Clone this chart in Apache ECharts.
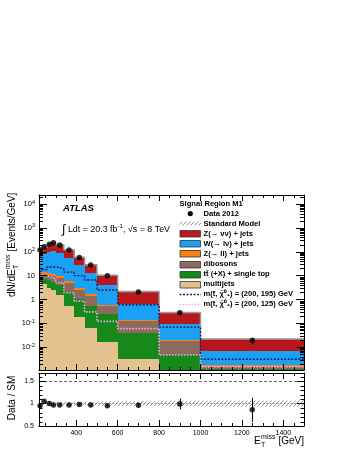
<!DOCTYPE html>
<html>
<head>
<meta charset="utf-8">
<title>Signal Region M1</title>
<script src="https://cdn.jsdelivr.net/npm/echarts@6.0.0/dist/echarts.min.js"></script>
<style>
  html, body { margin: 0; padding: 0; background: #ffffff; }
  #chart { width: 349px; height: 451px; }
</style>
</head>
<body>
<div id="chart"></div>
<script>
// E_T^miss bin edges [GeV]
var binEdges = [220, 230, 260, 280, 300, 340, 390, 440, 500, 600, 800, 1000, 1500];

// everything in events / GeV
var dataVals  = [118, 162, 204, 238, 191, 118, 58, 27.8, 9.9, 2.06, 0.28, 0.019];
var dataErrs  = [3.4, 2.3, 3.2, 3.4, 2.2, 1.5, 1.1, 0.68, 0.31, 0.1, 0.037, 0.006];

// stack, bottom to top
var multijets = [5.5, 4.5, 3.0, 2.5, 1.5, 0.55, 0.18, 0.062, 0.017, 0.0031, 0.0005, 0.0002];
var ttbar     = [2.2, 3.0, 3.3, 3.0, 2.5, 1.45, 0.82, 0.49, 0.22, 0.037, 0.0042, 0.001];
var dibosons  = [4.9, 4.2, 4.4, 4.5, 4.3, 3.1, 1.6, 0.89, 0.28, 0.08, 0.0127, 0.0003];
var zll       = [1.9, 1.8, 1.6, 1.5, 1.2, 0.8, 0.4, 0.21, 0.08, 0.018, 0.0026, 0.0002];
var wlnu      = [48, 64, 83, 93, 78, 48, 24, 10.9, 3.5, 0.52, 0.074, 0.0053];
var znunu     = [62, 76, 109, 140, 109, 68, 32, 16.2, 6.3, 1.5, 0.19, 0.015];
var smRelErr  = [0.05, 0.045, 0.04, 0.04, 0.04, 0.04, 0.045, 0.045, 0.05, 0.05, 0.06, 0.07];

// signal points
var sig195 = [12, 18, 23, 23, 20, 14, 10, 6.5, 2.5, 0.6, 0.069, 0.0031];
var sig125 = [11, 10, 8.5, 7.5, 5, 1.9, 0.85, 0.3, 0.12, 0.06, 0.0047, 0.0015];

// data / SM
var ratioVals = [0.95, 1.05, 1.0, 0.97, 0.97, 0.97, 0.98, 0.97, 0.95, 0.96, 0.99, 0.86];
var ratioErrs = [0.03, 0.02, 0.02, 0.02, 0.02, 0.02, 0.02, 0.03, 0.03, 0.05, 0.12, 0.27];

// axis ticks
var yTickVals = [0.01, 0.1, 1, 10, 100, 1000, 10000];
var yTickText = ['10{s|-2}', '10{s|-1}', '1', '10', '10{s|2}', '10{s|3}', '10{s|4}'];
var xMinorTicks = [250, 300, 350, 450, 500, 550, 650, 700, 750, 850, 900, 950, 1050, 1100, 1150, 1250, 1300, 1350, 1450];
var rMinorTicks = [0.6, 0.7, 0.8, 0.9, 1.1, 1.2, 1.3, 1.4, 1.6];

var legendHeader = 'Signal Region M1';
var legendLabels = ['Data 2012', 'Standard Model', 'Z(\u2192 \u03bd\u03bd) + jets', 'W(\u2192 l\u03bd) + jets',
  'Z(\u2192 ll) + jets', 'dibosons', 'tt\u0304 (+X) + single top', 'multijets',
  'm(t\u0303, \u03c7\u0303\u2070\u2081) = (200, 195) GeV', 'm(t\u0303, \u03c7\u0303\u2070\u2081) = (200, 125) GeV'];

var FONT = '"Liberation Sans", Arial, Helvetica, sans-serif';
var X_MIN = 220, X_MAX = 1500, Y_MIN = 0.0011, Y_MAX = 24000, R_MIN = 0.5, R_MAX = 1.68;

var colMulti = '#e3c290', colTop = '#17891a', colDib = '#8c6b5c', colZll = '#ff800f',
    colW = '#1ba1f4', colZnn = '#b8171c', colSig1 = '#24165e', colSig2 = '#f4a8f4';

var layers = [
  { vals: multijets, color: colMulti },
  { vals: ttbar, color: colTop },
  { vals: dibosons, color: colDib },
  { vals: zll, color: colZll },
  { vals: wlnu, color: colW },
  { vals: znunu, color: colZnn }
];

var nb = binEdges.length - 1;
var cum = [];
for (var i = 0; i < nb; i++) cum.push(0);
layers.forEach(function (l) {
  l.items = l.vals.map(function (v, i) {
    var lo = cum[i];
    cum[i] += v;
    return [binEdges[i], binEdges[i + 1], lo > 0 ? lo : Y_MIN / 10, cum[i]];
  });
});
var smTotal = cum.slice();
var centers = [];
for (i = 0; i < nb; i++) centers.push((binEdges[i] + binEdges[i + 1]) / 2);

function stepData(vals) {
  var d = vals.map(function (v, i) { return [binEdges[i], v]; });
  d.push([binEdges[vals.length], vals[vals.length - 1]]);
  return d;
}

// hatch pattern
function hatchCanvas(color) {
  var c = document.createElement('canvas');
  c.width = 4; c.height = 4;
  var g = c.getContext('2d');
  g.strokeStyle = color;
  g.lineWidth = 0.9;
  g.beginPath();
  g.moveTo(0, 4); g.lineTo(4, 0);
  g.moveTo(-1, 1); g.lineTo(1, -1);
  g.moveTo(3, 5); g.lineTo(5, 3);
  g.stroke();
  return c;
}
var hatchFill = { image: hatchCanvas('#8a8a8a'), repeat: 'repeat' };

var mctx = document.createElement('canvas').getContext('2d');
function textW(str, size, weight) {
  mctx.font = (weight || 'normal') + ' ' + size + 'px ' + FONT;
  return mctx.measureText(str).width;
}

function clipTo(r, cs) {
  return echarts.graphic.clipRectByRect(r, { x: cs.x, y: cs.y, width: cs.width, height: cs.height });
}

function renderBox(params, api) {
  var a = api.coord([api.value(0), api.value(3)]);
  var b = api.coord([api.value(1), api.value(2)]);
  var x0 = Math.round(a[0]), x1 = Math.round(b[0]);
  var y0 = Math.round(a[1]), y1 = Math.round(b[1]);
  var r = clipTo({ x: x0, y: y0, width: x1 - x0, height: y1 - y0 }, params.coordSys);
  if (!r) return;
  return { type: 'rect', shape: r, style: { fill: api.visual('color') } };
}

function renderHatch(params, api) {
  var a = api.coord([api.value(0), api.value(3)]);
  var b = api.coord([api.value(1), api.value(2)]);
  var r = clipTo({ x: a[0], y: a[1], width: b[0] - a[0], height: Math.max(b[1] - a[1], 1.5) }, params.coordSys);
  if (!r) return;
  return { type: 'rect', shape: r, style: { fill: hatchFill } };
}

function renderErr(params, api) {
  var a = api.coord([api.value(0), api.value(1) - api.value(2)]);
  var b = api.coord([api.value(0), api.value(1) + api.value(2)]);
  var x = Math.round(a[0]) + 0.5;
  return { type: 'line', shape: { x1: x, y1: a[1], x2: x, y2: b[1] }, style: { stroke: '#000', lineWidth: 1 } };
}

function tickSeries(xi, yi, data, dim, len) {
  return {
    type: 'custom', xAxisIndex: xi, yAxisIndex: yi, silent: true, z: 12, clip: false,
    data: data,
    renderItem: function (params, api) {
      var cs = params.coordSys;
      var p = api.coord([api.value(0), api.value(1)]);
      var st = { stroke: '#000', lineWidth: 1 };
      if (dim === 'y') {
        if (p[1] < cs.y + 0.5 || p[1] > cs.y + cs.height - 0.5) return;
        var y = Math.round(p[1]) + 0.5;
        return { type: 'group', children: [
          { type: 'line', shape: { x1: cs.x, y1: y, x2: cs.x + len, y2: y }, style: st },
          { type: 'line', shape: { x1: cs.x + cs.width - len, y1: y, x2: cs.x + cs.width, y2: y }, style: st }
        ] };
      }
      var x = Math.round(p[0]) + 0.5;
      return { type: 'group', children: [
        { type: 'line', shape: { x1: x, y1: cs.y + cs.height, x2: x, y2: cs.y + cs.height - len }, style: st },
        { type: 'line', shape: { x1: x, y1: cs.y, x2: x, y2: cs.y + len }, style: st }
      ] };
    }
  };
}

var yMinorTicks = [];
for (var e = -3; e <= 4; e++) {
  for (var k = 2; k <= 9; k++) {
    var v = k * Math.pow(10, e);
    if (v > Y_MIN && v < Y_MAX) yMinorTicks.push([X_MIN, v]);
  }
}

function logLabel(val) {
  for (var j = 0; j < yTickVals.length; j++) {
    if (Math.abs(val / yTickVals[j] - 1) < 1e-6) return yTickText[j];
  }
  return '';
}

var axisLineStyle = { show: true, lineStyle: { color: '#000', width: 1 } };
function xAx(grid, pos, labels) {
  return {
    type: 'value', gridIndex: grid, position: pos, min: X_MIN, max: X_MAX, splitNumber: 6, z: 10,
    axisLine: axisLineStyle,
    axisTick: { show: true, inside: true, length: 6, lineStyle: { color: '#000' } },
    splitLine: { show: false },
    axisLabel: labels ? { show: true, fontSize: 7, color: '#000', margin: 4, fontFamily: FONT,
      showMinLabel: false, showMaxLabel: false,
      formatter: function (v) { return (v === X_MIN || v === X_MAX) ? '' : String(v); } } : { show: false }
  };
}

var ySeries = [];
layers.forEach(function (l) {
  ySeries.push({ type: 'custom', xAxisIndex: 0, yAxisIndex: 0, renderItem: renderBox,
    itemStyle: { color: l.color }, data: l.items, z: 2, silent: true });
});

var smBand = smTotal.map(function (t, i) {
  return [binEdges[i], binEdges[i + 1], t * (1 - smRelErr[i]), t * (1 + smRelErr[i])];
});
var rBand = smRelErr.map(function (r, i) { return [binEdges[i], binEdges[i + 1], 1 - r, 1 + r]; });

var option = {
  animation: false,
  backgroundColor: '#ffffff',
  textStyle: { fontFamily: FONT },
  grid: [
    { left: 39, top: 195, width: 265, height: 175 },
    { left: 39, top: 373, width: 265, height: 53 }
  ],
  xAxis: [xAx(0, 'bottom', false), xAx(0, 'top', false), xAx(1, 'bottom', true), xAx(1, 'top', false)],
  yAxis: [
    { type: 'log', gridIndex: 0, position: 'left', min: Y_MIN, max: Y_MAX, logBase: 10, z: 10,
      axisLine: axisLineStyle, splitLine: { show: false },
      axisTick: { show: true, inside: true, length: 8, lineStyle: { color: '#000' } },
      axisLabel: { show: true, color: '#000', margin: 4, formatter: logLabel,
        rich: { s: { fontSize: 5.5, verticalAlign: 'top', fontFamily: FONT, padding: [0, 0, 4, 0] } },
        fontSize: 7.5, fontFamily: FONT } },
    { type: 'log', gridIndex: 0, position: 'right', min: Y_MIN, max: Y_MAX, logBase: 10, z: 10,
      axisLine: axisLineStyle, splitLine: { show: false },
      axisTick: { show: true, inside: true, length: 8, lineStyle: { color: '#000' } },
      axisLabel: { show: false } },
    { type: 'value', gridIndex: 1, position: 'left', min: R_MIN, max: R_MAX, interval: 0.5, z: 10,
      axisLine: axisLineStyle, splitLine: { show: false },
      axisTick: { show: true, inside: true, length: 7, lineStyle: { color: '#000' } },
      axisLabel: { show: true, color: '#000', fontSize: 7, margin: 5, fontFamily: FONT,
        formatter: function (v) { return v > 1.6 ? '' : String(v); } } },
    { type: 'value', gridIndex: 1, position: 'right', min: R_MIN, max: R_MAX, interval: 0.5, z: 10,
      axisLine: axisLineStyle, splitLine: { show: false },
      axisTick: { show: true, inside: true, length: 7, lineStyle: { color: '#000' } },
      axisLabel: { show: false } }
  ],
  series: ySeries.concat([
    { type: 'custom', xAxisIndex: 0, yAxisIndex: 0, renderItem: renderHatch, data: smBand, z: 3, silent: true },
    { type: 'line', xAxisIndex: 0, yAxisIndex: 0, step: 'end', data: stepData(smTotal), symbol: 'none',
      lineStyle: { color: '#9a9a9a', width: 1.5 }, z: 3, silent: true },
    { type: 'line', xAxisIndex: 0, yAxisIndex: 0, step: 'end', data: stepData(sig195), symbol: 'none',
      lineStyle: { color: colSig1, width: 1.4, type: [2, 1.5] }, z: 4, silent: true },
    { type: 'line', xAxisIndex: 0, yAxisIndex: 0, step: 'end', data: stepData(sig125), symbol: 'none',
      lineStyle: { color: colSig2, width: 1.6, type: [1.5, 1.5] }, z: 4, silent: true },
    { type: 'custom', xAxisIndex: 0, yAxisIndex: 0, renderItem: renderErr, z: 5, silent: true,
      data: centers.map(function (c, i) { return [c, dataVals[i], dataErrs[i]]; }) },
    { type: 'scatter', xAxisIndex: 0, yAxisIndex: 0, symbolSize: 5.5, itemStyle: { color: '#000' }, z: 6,
      data: centers.map(function (c, i) { return [c, dataVals[i]]; }), silent: true },
    tickSeries(0, 0, yMinorTicks, 'y', 4),
    tickSeries(0, 0, xMinorTicks.map(function (x) { return [x, 1]; }), 'x', 3),

    { type: 'custom', xAxisIndex: 2, yAxisIndex: 2, renderItem: renderHatch, data: rBand, z: 3, silent: true },
    { type: 'custom', xAxisIndex: 2, yAxisIndex: 2, renderItem: renderErr, z: 5, silent: true,
      data: centers.map(function (c, i) { return [c, ratioVals[i], ratioErrs[i]]; }) },
    { type: 'scatter', xAxisIndex: 2, yAxisIndex: 2, symbolSize: 5.5, itemStyle: { color: '#000' }, z: 6,
      data: centers.map(function (c, i) { return [c, ratioVals[i]]; }), silent: true,
      markLine: { silent: true, symbol: 'none', label: { show: false },
        lineStyle: { color: '#444', width: 0.8, type: [3, 2] },
        data: [{ yAxis: 1.5 }, { yAxis: 1, lineStyle: { color: '#777', type: [1.5, 2] } }] } },
    tickSeries(2, 2, rMinorTicks.map(function (r) { return [X_MIN, r]; }), 'y', 3.5),
    tickSeries(2, 2, xMinorTicks.map(function (x) { return [x, 1]; }), 'x', 3)
  ])
};

// texts, titles and legend
var gfx = [];
function txt(x, y, s, size, opts) {
  opts = opts || {};
  gfx.push({ type: 'text', x: x, y: y, z: 20, rotation: opts.rotation || 0,
    style: { text: s, fontSize: size, fontFamily: FONT, fontWeight: opts.weight || 'normal',
      fontStyle: opts.italic ? 'italic' : 'normal', fill: '#000', rich: opts.rich,
      align: opts.align || 'left', verticalAlign: 'middle' } });
}

txt(63, 208, 'ATLAS', 9.5, { weight: 'bold', italic: true });
txt(62, 230, '{i|\u222b} Ldt = 20.3 fb{s|-1}, \u221as = 8 TeV', 8.9, { rich: {
  i: { fontSize: 12.5, fontFamily: FONT },
  s: { fontSize: 6.2, verticalAlign: 'top', fontFamily: FONT, padding: [0, 0, 4, 0] } } });

// x title
var wE = textW('E', 10), wMiss = textW('miss', 7), wGeV = textW(' [GeV]', 10);
var xt0 = 304 - (wE + wMiss + 0.5 + wGeV);
txt(xt0, 441.5, 'E', 10);
txt(xt0 + wE + 0.3, 437.5, 'miss', 7);
txt(xt0 + wE + 0.3, 445, 'T', 7);
txt(xt0 + wE + wMiss + 0.5, 441.5, ' [GeV]', 10);

// y title (rotated)
var wD = textW('dN/dE', 10);
gfx.push({ type: 'group', x: 12.5, y: 297, rotation: Math.PI / 2, z: 20, children: [
  { type: 'text', x: 0, y: 0, style: { text: 'dN/dE', fontSize: 10, fontFamily: FONT, fill: '#000', verticalAlign: 'middle' } },
  { type: 'text', x: wD + 0.3, y: -4, style: { text: 'miss', fontSize: 7, fontFamily: FONT, fill: '#000', verticalAlign: 'middle' } },
  { type: 'text', x: wD + 0.3, y: 3.5, style: { text: 'T', fontSize: 7, fontFamily: FONT, fill: '#000', verticalAlign: 'middle' } },
  { type: 'text', x: wD + wMiss + 0.5, y: 0, style: { text: ' [Events/GeV]', fontSize: 10, fontFamily: FONT, fill: '#000', verticalAlign: 'middle' } }
] });
txt(12.5, 398, 'Data / SM', 10, { rotation: Math.PI / 2, align: 'center' });

// legend
var LX = 179.5, LW = 21.5, LT = 203.5;
txt(LX, LT + 0.5, legendHeader, 7.6, { weight: 'bold' });
var boxCols = [null, null, colZnn, colW, colZll, colDib, colTop, colMulti];
legendLabels.forEach(function (lab, i) {
  var y = LT + 10.05 * (i + 1);
  if (i === 0) {
    gfx.push({ type: 'circle', shape: { cx: LX + LW / 2, cy: y, r: 2.6 }, style: { fill: '#000' }, z: 20 });
  } else if (i === 1) {
    gfx.push({ type: 'rect', shape: { x: LX, y: y - 2, width: LW, height: 4 }, style: { fill: hatchFill }, z: 20 });
  } else if (i < 8) {
    gfx.push({ type: 'rect', shape: { x: LX + 0.5, y: Math.round(y - 3.3) + 0.5, width: LW - 1, height: 6.5 },
      style: { fill: boxCols[i], stroke: '#333', lineWidth: 0.8 }, z: 20 });
  } else {
    gfx.push({ type: 'line', shape: { x1: LX, y1: Math.round(y) + 0.5, x2: LX + LW, y2: Math.round(y) + 0.5 },
      style: { stroke: i === 8 ? colSig1 : colSig2, lineWidth: 1.4, lineDash: i === 8 ? [2, 1.5] : [1.5, 1.5] }, z: 20 });
  }
  txt(LX + LW + 2.5, y + 0.3, lab, 7.6, { weight: 'bold' });
});
option.graphic = { elements: gfx };

var chart = echarts.init(document.getElementById('chart'));
chart.setOption(option);
</script>
</body>
</html>
